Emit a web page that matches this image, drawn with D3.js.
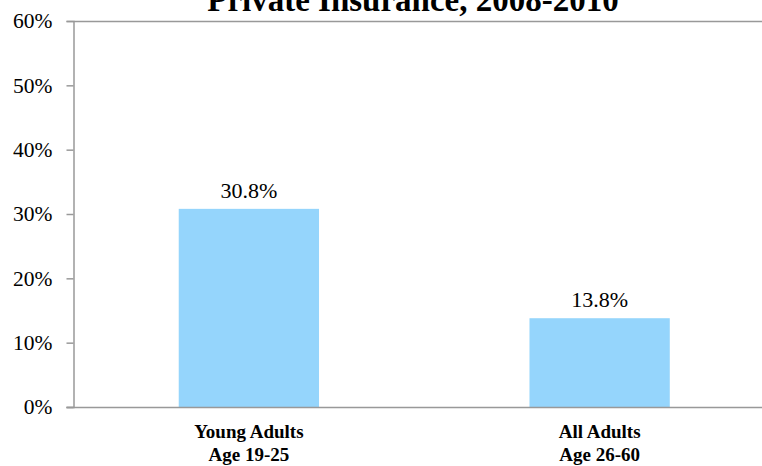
<!DOCTYPE html>
<html><head><meta charset="utf-8">
<script src="https://cdn.jsdelivr.net/npm/d3@7"></script>
<style>body{margin:0;background:#fff}svg{display:block}</style>
</head><body>
<svg id="c" width="762" height="466"></svg>
<script>
const categories = [["Young Adults","Age 19-25"],["All Adults","Age 26-60"]];
const values = [30.8, 13.8];
const yTicks = [0,10,20,30,40,50,60];
const title = "Private Insurance, 2008-2010";

const svg = d3.select("#c");
const font = "'Liberation Serif','Times New Roman',serif";
const x0 = 73.5, x1 = 775, yB = 407, yT = 21;
const x = d3.scaleBand().domain(categories.map(c=>c.join(" "))).range([x0,x1]).paddingInner(0.6).paddingOuter(0.3);
const y = d3.scaleLinear().domain([0,60]).range([yB,yT]);

svg.append("text").attr("x",413).attr("y",11).attr("text-anchor","middle")
  .attr("font-family",font).attr("font-weight","bold").attr("font-size",33).attr("fill","#000").text(title);

// top border
svg.append("line").attr("x1",x0).attr("x2",762).attr("y1",Math.round(y(60))+0.5).attr("y2",Math.round(y(60))+0.5)
  .attr("stroke","#999").attr("stroke-width",1.5);

// bars
svg.selectAll("rect.bar").data(values).enter().append("rect")
  .attr("x",(d,i)=>x(categories[i].join(" "))).attr("width",x.bandwidth())
  .attr("y",d=>y(d)).attr("height",d=>y(0)-y(d)).attr("fill","#95d5fc");

// value labels
svg.selectAll("text.val").data(values).enter().append("text")
  .attr("x",(d,i)=>x(categories[i].join(" "))+x.bandwidth()/2).attr("y",d=>y(d)-11)
  .attr("text-anchor","middle").attr("font-family",font).attr("font-size",22).attr("fill","#000")
  .text(d=>d.toFixed(1)+"%");

// y axis
const ya = svg.append("g").attr("transform",`translate(${x0},0)`)
  .call(d3.axisLeft(y).tickValues(yTicks).tickSize(7).tickPadding(14).tickFormat(d=>d+"%"));
ya.select(".domain").attr("stroke","#999").attr("stroke-width",1.5);
ya.selectAll(".tick line").attr("stroke","#999").attr("stroke-width",1.5);
ya.selectAll(".tick text").attr("font-family",font).attr("font-size",21.5).attr("fill","#000");

// x axis line
svg.append("line").attr("x1",x0-7).attr("x2",762).attr("y1",yB+0.5).attr("y2",yB+0.5)
  .attr("stroke","#999").attr("stroke-width",1.5);

// x labels
const xl = svg.selectAll("text.xl").data(categories).enter().append("text")
  .attr("text-anchor","middle").attr("font-family",font).attr("font-weight","bold").attr("font-size",19).attr("fill","#000");
xl.each(function(c){
  const cx = x(c.join(" "))+x.bandwidth()/2;
  c.forEach((line,j)=>d3.select(this).append("tspan").attr("x",cx).attr("y",438+j*23).text(line));
});
</script>
</body></html>
